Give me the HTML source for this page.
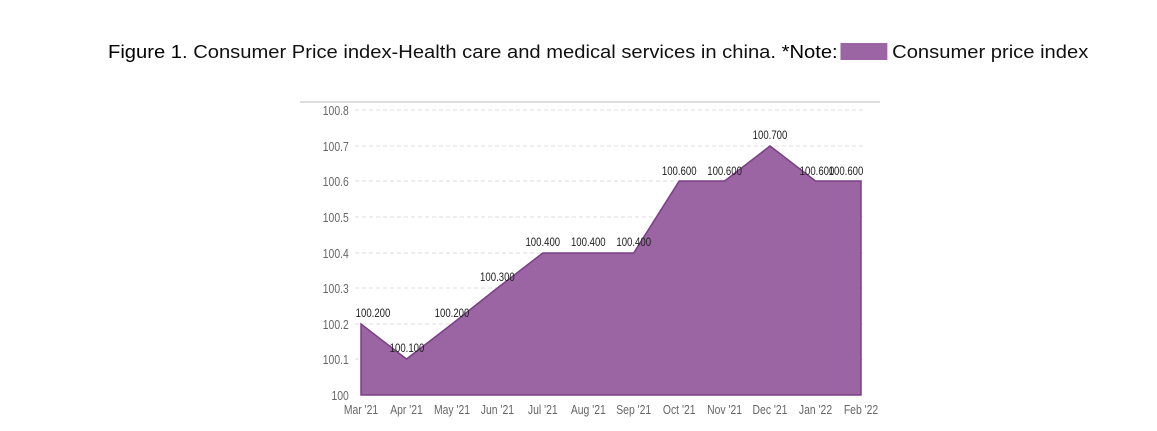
<!DOCTYPE html>
<html><head><meta charset="utf-8"><style>
body{margin:0;background:#fff;width:1157px;height:431px;overflow:hidden;font-family:"Liberation Sans",sans-serif}
.t{position:absolute;left:108px;top:41px;font-size:18.5px;color:#111;white-space:nowrap;transform:scaleX(1.09);transform-origin:0 0}
.lg{display:inline-block;width:43px;height:17px;background:#9b64a3;vertical-align:-2px;margin:0 4px 0 3px}
</style></head><body>
<div class="t"><span style="color:#000">Figure 1</span>. Consumer Price index-Health care and medical services in china. <span style="color:#000">*Note:</span><span class="lg"></span>Consumer price index</div>
<svg width="1157" height="431" style="position:absolute;left:0;top:0" font-family="Liberation Sans, sans-serif">
<line x1="300" y1="102" x2="880" y2="102" stroke="#ddd" stroke-width="2"/>
<g stroke="#ddd" stroke-dasharray="4,3" stroke-width="1">
<line x1="355" y1="110" x2="866" y2="110"/><line x1="355" y1="146" x2="866" y2="146"/>
<line x1="355" y1="181" x2="866" y2="181"/><line x1="355" y1="217" x2="866" y2="217"/>
<line x1="355" y1="253" x2="866" y2="253"/><line x1="355" y1="288" x2="866" y2="288"/>
<line x1="355" y1="324" x2="866" y2="324"/><line x1="355" y1="359" x2="866" y2="359"/>
</g>
<polygon fill="#9b64a3" stroke="#7a3f85" stroke-width="1.5" points="361,395 361,324 406.5,359 452,324 497.4,288 542.8,253 588.3,253 633.7,253 679.2,181 724.6,181 770,146 815.5,181 861,181 861,395"/>
<g fill="#666" font-size="13" text-anchor="end" transform="scale(0.8,1)">
<text x="436" y="115">100.8</text><text x="436" y="151">100.7</text><text x="436" y="186">100.6</text><text x="436" y="222">100.5</text><text x="436" y="258">100.4</text><text x="436" y="293">100.3</text><text x="436" y="329">100.2</text><text x="436" y="364">100.1</text><text x="436" y="400">100</text>
</g>
<g fill="#666" font-size="13" text-anchor="middle">
<text transform="translate(361,414) scale(0.8,1)">Mar '21</text><text transform="translate(406.5,414) scale(0.8,1)">Apr '21</text><text transform="translate(452,414) scale(0.8,1)">May '21</text><text transform="translate(497.4,414) scale(0.8,1)">Jun '21</text><text transform="translate(542.8,414) scale(0.8,1)">Jul '21</text><text transform="translate(588.3,414) scale(0.8,1)">Aug '21</text><text transform="translate(633.7,414) scale(0.8,1)">Sep '21</text><text transform="translate(679.2,414) scale(0.8,1)">Oct '21</text><text transform="translate(724.6,414) scale(0.8,1)">Nov '21</text><text transform="translate(770,414) scale(0.8,1)">Dec '21</text><text transform="translate(815.5,414) scale(0.8,1)">Jan '22</text><text transform="translate(861,414) scale(0.8,1)">Feb '22</text>
</g>
<g fill="#222" font-size="12" text-anchor="middle">
<text transform="translate(373,317) scale(0.8,1)">100.200</text><text transform="translate(407,352) scale(0.8,1)">100.100</text><text transform="translate(452,317) scale(0.8,1)">100.200</text><text transform="translate(497.4,281) scale(0.8,1)">100.300</text><text transform="translate(542.8,246) scale(0.8,1)">100.400</text><text transform="translate(588.3,246) scale(0.8,1)">100.400</text><text transform="translate(633.7,246) scale(0.8,1)">100.400</text><text transform="translate(679.2,175) scale(0.8,1)">100.600</text><text transform="translate(724.6,175) scale(0.8,1)">100.600</text><text transform="translate(770,139) scale(0.8,1)">100.700</text><text transform="translate(817,175) scale(0.8,1)">100.600</text><text transform="translate(846,175) scale(0.8,1)">100.600</text>
</g>
</svg>
</body></html>
